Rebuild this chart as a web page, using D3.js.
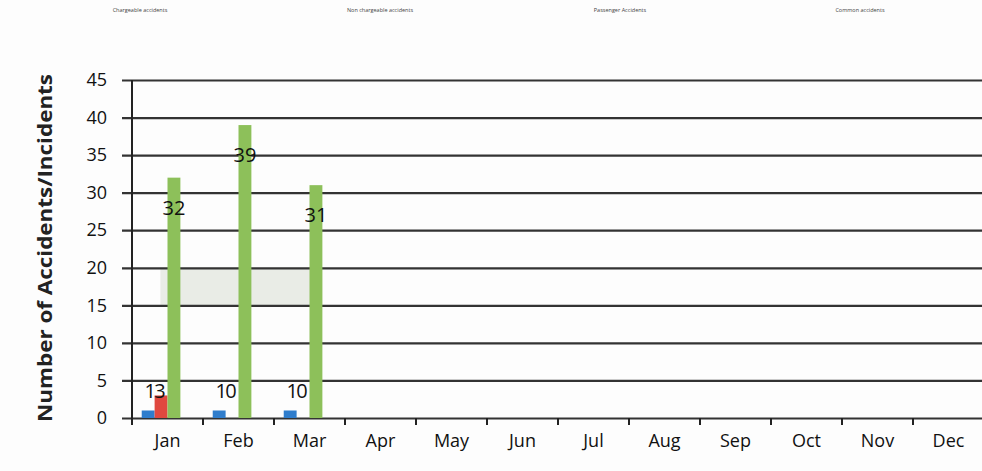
<!doctype html>
<html lang="en">
    <head>
        <meta charset="utf-8">
        <title>Accidents/Incidents by month</title>
        <script src="https://cdn.jsdelivr.net/npm/d3@7/dist/d3.min.js"></script>
        <style>
            body { margin: 0; background: #fdfdfd; }
            text { font-family: "Open Sans", sans-serif; }
        </style>
    </head>
    <body>
        <div id="chart"></div>

        <script type="text/javascript">

            // data
            var months = ["Jan", "Feb", "Mar", "Apr", "May", "Jun", "Jul", "Aug", "Sep", "Oct", "Nov", "Dec"];
            var seriesNames = ["Chargeable accidents", "Non chargeable accidents", "Passenger Accidents", "Common accidents"];
            var seriesColors = ["#2f7dcc", "#e0483f", "#8dc05a", "#7f5fa8"];
            var chargeable = [1, 1, 1];
            var nonChargeable = [3, 0, 0];
            var passenger = [32, 39, 31];
            var common = [0, 0, 0];
            var yTicks = [0, 5, 10, 15, 20, 25, 30, 35, 40, 45];
            // the pale band on the scan between 15 and 20
            var band = {from: "Jan", to: "Mar", lo: 15, hi: 20};

            var W = 982, H = 471;
            var svg = d3.select("#chart").append("svg").attr("width", W).attr("height", H);

            var x = d3.scaleBand().domain(months).range([132, 984]);
            var inner = d3.scaleBand().domain([0, 1, 2, 3])
                .range([x.bandwidth() * 0.137, x.bandwidth() * 0.863]);
            var y = d3.scaleLinear().domain([0, 45]).range([418, 80]);

            // legend (tiny on the scan)
            var lg = d3.scalePoint().domain(seriesNames).range([140, 860]);
            svg.append("g").selectAll("text").data(seriesNames).enter().append("text")
                .attr("x", function(d) { return lg(d); })
                .attr("y", 12)
                .attr("text-anchor", "middle")
                .attr("font-size", "5.5px")
                .attr("fill", "#444")
                .text(function(d) { return d; });

            // faint band
            svg.append("rect")
                .attr("x", x(band.from) + x.bandwidth() * 0.4)
                .attr("y", y(band.hi))
                .attr("width", x(band.to) + x.bandwidth() * 0.68 - (x(band.from) + x.bandwidth() * 0.4))
                .attr("height", y(band.lo) - y(band.hi))
                .attr("fill", "#e9ece6");

            // gridlines + y ticks
            var yAxis = d3.axisLeft(y).tickValues(yTicks).tickSize(-(W - 122)).tickPadding(24);
            var gy = svg.append("g").attr("transform", "translate(122,0)").call(yAxis);
            gy.select(".domain").remove();
            gy.selectAll(".tick line").attr("stroke", "#333").attr("stroke-width", 2.2);
            gy.selectAll(".tick text").attr("font-size", "18px").attr("fill", "#111")
                .attr("x", -15);

            // vertical axis line
            svg.append("line").attr("x1", 132).attr("x2", 132).attr("y1", y(45)).attr("y2", y(0) + 7)
                .attr("stroke", "#222").attr("stroke-width", 2);

            // x axis ticks at the band edges
            var edges = months.map(function(m) { return x(m); }).concat([x.range()[1]]);
            svg.append("g").selectAll("line").data(edges).enter().append("line")
                .attr("x1", function(d) { return d; }).attr("x2", function(d) { return d; })
                .attr("y1", y(0)).attr("y2", y(0) + 7)
                .attr("stroke", "#222").attr("stroke-width", 2);

            svg.append("g").selectAll("text").data(months).enter().append("text")
                .attr("x", function(d) { return x(d) + x.bandwidth() / 2; })
                .attr("y", 447)
                .attr("text-anchor", "middle")
                .attr("font-size", "18px")
                .attr("fill", "#111")
                .text(function(d) { return d; });

            // bars
            var all = [chargeable, nonChargeable, passenger, common];
            all.forEach(function(vals, s) {
                svg.append("g").selectAll("rect").data(vals).enter().append("rect")
                    .attr("x", function(d, i) { return x(months[i]) + inner(s); })
                    .attr("width", inner.bandwidth())
                    .attr("y", function(d) { return y(d); })
                    .attr("height", function(d) { return y(0) - y(d); })
                    .attr("fill", seriesColors[s]);
            });

            // labels for the small series sit just above the floor
            [chargeable, nonChargeable].forEach(function(vals, s) {
                svg.append("g").selectAll("text").data(vals).enter().append("text")
                    .attr("x", function(d, i) { return x(months[i]) + inner(s) + inner.bandwidth() / 2 + (s === 0 ? 2 : -1); })
                    .attr("y", y(0) - 20)
                    .attr("text-anchor", "middle")
                    .attr("font-size", "20px")
                    .attr("fill", "#111")
                    .text(function(d) { return d; });
            });

            // passenger labels inside the bar top
            svg.append("g").selectAll("text").data(passenger).enter().append("text")
                .attr("x", function(d, i) { return x(months[i]) + inner(2) + inner.bandwidth() / 2; })
                .attr("y", function(d) { return y(d) + 37; })
                .attr("text-anchor", "middle")
                .attr("font-size", "20px")
                .attr("fill", "#111")
                .text(function(d) { return d; });

            // axis title
            svg.append("text")
                .attr("transform", "translate(52,248) rotate(-90)")
                .attr("text-anchor", "middle")
                .attr("font-size", "20px")
                .attr("font-weight", "bold")
                .attr("fill", "#222")
                .attr("textLength", 348)
                .attr("lengthAdjust", "spacingAndGlyphs")
                .text("Number of Accidents/Incidents");

        </script>
    </body>
</html>
